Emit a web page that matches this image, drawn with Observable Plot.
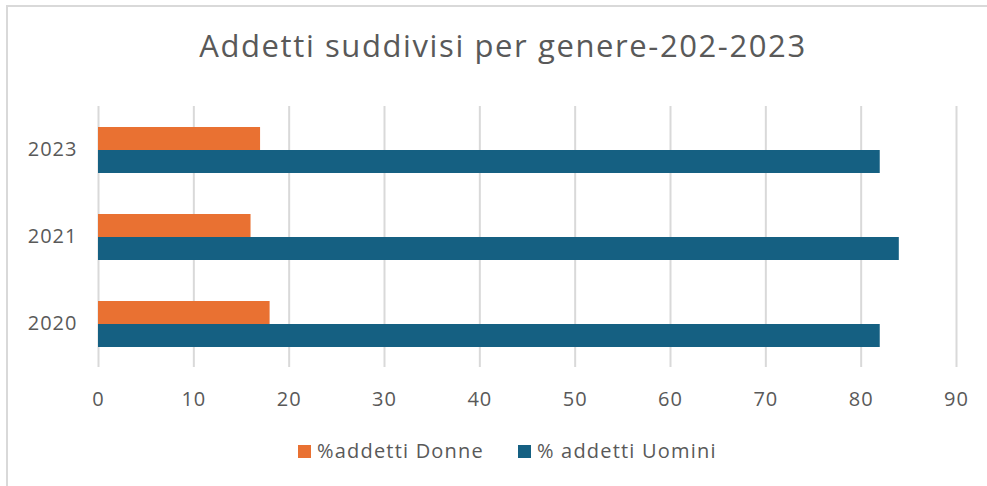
<!DOCTYPE html>
<html><head><meta charset="utf-8">
<script src="https://cdn.jsdelivr.net/npm/d3@7"></script>
<script src="https://cdn.jsdelivr.net/npm/@observablehq/plot@0.6"></script>
<style>
body{margin:0;background:#fff;}
#wrap{position:relative;width:987px;height:486px;overflow:hidden;font-family:"Open Sans",sans-serif;color:#595959;background:#fff;}
#frame{position:absolute;left:6px;top:5px;width:1100px;height:600px;border-top:2px solid #d9d9d9;border-left:2px solid #d9d9d9;}
#title{position:absolute;left:0;width:1006px;top:26px;text-align:center;font-size:31px;line-height:38px;letter-spacing:1.6px;white-space:nowrap;}
#chart{position:absolute;left:0;top:0;}
#legend{position:absolute;left:298px;top:438px;display:flex;align-items:center;font-size:20px;line-height:26px;letter-spacing:1.2px;white-space:nowrap;}
.item{display:flex;align-items:center;margin-right:34px;}
.sw{width:13px;height:13px;margin-right:6px;}
</style></head>
<body>
<div id="wrap">
  <div id="frame"></div>
  <div id="title"></div>
  <div id="chart"></div>
  <div id="legend"></div>
</div>
<script>
const titleText = "Addetti suddivisi per genere-202-2023";
const years = ["2023", "2021", "2020"];
const series = ["%addetti Donne", "% addetti Uomini"];
const donne = [17, 16, 18];
const uomini = [82, 84, 82];
const xTicks = [0, 10, 20, 30, 40, 50, 60, 70, 80, 90];
const colors = ["#E97132", "#156082"];

const rows = years.flatMap((y, i) => [
  {year: y, series: series[0], value: donne[i]},
  {year: y, series: series[1], value: uomini[i]}
]);

document.getElementById("title").textContent = titleText;

const chart = Plot.plot({
  width: 987,
  height: 420,
  marginTop: 105,
  marginBottom: 53,
  marginLeft: 98,
  marginRight: 31,
  style: {fontFamily: "'Open Sans', sans-serif", fontSize: "20px", color: "#595959", background: "transparent", letterSpacing: "1px"},
  x: {domain: [0, 90], ticks: xTicks},
  y: {domain: series, paddingInner: 0, paddingOuter: 0.89, axis: null},
  fy: {domain: years, padding: 0},
  color: {domain: series, range: colors},
  marks: [
    Plot.gridX(xTicks, {stroke: "#d9d9d9", strokeOpacity: 1, strokeWidth: 2}),
    Plot.barX(rows, {x: "value", y: "series", fy: "year", fill: "series"}),
    Plot.axisX({ticks: xTicks, tickSize: 0, tickPadding: 24, label: null, fontSize: 20, fill: "#595959"}),
    Plot.axisFy({anchor: "left", tickSize: 0, tickPadding: 21, label: null, fontSize: 20, fill: "#595959"})
  ]
});
document.getElementById("chart").appendChild(chart);

const legend = document.getElementById("legend");
series.forEach((s, i) => {
  const item = document.createElement("div");
  item.className = "item";
  const sw = document.createElement("div");
  sw.className = "sw";
  sw.style.background = colors[i];
  const t = document.createElement("span");
  t.textContent = s;
  item.appendChild(sw);
  item.appendChild(t);
  legend.appendChild(item);
});
</script>
</body></html>
